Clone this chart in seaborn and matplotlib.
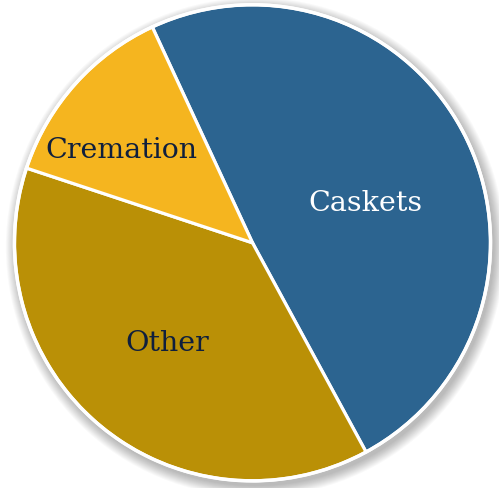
import matplotlib
matplotlib.use("Agg")
import matplotlib.pyplot as plt
import seaborn as sns
from matplotlib.patches import Circle

categories = ["Caskets", "Other", "Cremation"]
shares = [49, 38, 13]
colors = ["#2C6490", "#BA9006", "#F5B51F"]
text_colors = ["white", "#0F1F3D", "#0F1F3D"]
# label spots inside each slice (in units of the pie radius)
label_xy = [(0.475, 0.164), (-0.357, -0.424), (-0.55, 0.387)]

sns.set_theme(style="white")
plt.rcParams["font.family"] = ["DejaVu Serif"]

fig = plt.figure(figsize=(4.99, 4.88), dpi=100)
ax = fig.add_axes([0, 0, 1, 1])

cx, cy = 0.0, 0.0
# soft drop shadow
for i in range(12):
    ax.add_patch(Circle((cx + 0.012, cy - 0.018), 1.0 + 0.004 * (12 - i),
                        color="black", alpha=0.025, zorder=0, lw=0))

wedges, _ = ax.pie(shares, colors=colors, startangle=114.9, counterclock=False,
                   radius=1.0, center=(cx, cy),
                   wedgeprops=dict(edgecolor="white", linewidth=2.3))
ax.add_patch(Circle((cx, cy), 1.0, fill=False, edgecolor="white", lw=2.5, zorder=5))

for name, (x, y), tc in zip(categories, label_xy, text_colors):
    ax.text(cx + x, cy + y, name, ha="center", va="center", color=tc, fontsize=20.5)

ax.set_xlim(-1.06, 1.035)
ax.set_ylim(-1.03, 1.02)
ax.set_aspect("equal")
ax.axis("off")
fig.savefig("out.png", dpi=100)
